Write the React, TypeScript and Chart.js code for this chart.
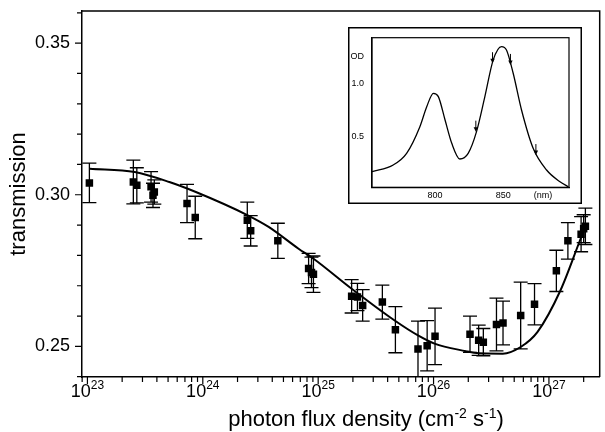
import React, { useEffect, useRef } from 'react';
import { Chart, registerables } from 'chart.js';

Chart.register(...registerables);

const FONT = '"Liberation Sans", Arial, Helvetica, sans-serif';

// ---------- main chart data ----------
const flux = [
  1.04e23, 2.5e23, 2.68e23, 3.56e23, 3.8e23, 3.7e23, 7.3e23, 8.6e23,
  2.43e24, 2.6e24, 4.47e24, 8.26e24, 8.75e24, 9.1e24,
  1.95e25, 2.19e25, 2.43e25, 3.6e25, 4.67e25, 7.33e25, 8.8e25,
  1.03e26, 2.07e26, 2.46e26, 2.7e26, 3.51e26, 4.0e26, 5.69e26, 7.5e26,
  1.16e27, 1.46e27, 1.9e27, 2.0e27, 2.07e27,
];
const transmission = [
  0.3039, 0.3042, 0.3031, 0.3026, 0.3009, 0.2998, 0.2971, 0.2925,
  0.2916, 0.2881, 0.2848, 0.2757, 0.2744, 0.2738,
  0.2665, 0.2663, 0.2635, 0.2646, 0.2555, 0.2491, 0.2502,
  0.2533, 0.254, 0.252, 0.2514, 0.2572, 0.2577, 0.2602, 0.2639,
  0.2749, 0.2848, 0.287, 0.2888, 0.2896,
];
const transmissionErr = [
  0.0065, 0.0072, 0.0058, 0.005, 0.004, 0.004, 0.0063, 0.007,
  0.006, 0.005, 0.0058, 0.005, 0.005, 0.006,
  0.0055, 0.0045, 0.0052, 0.0056, 0.0076, 0.0092, 0.0083,
  0.0093, 0.006, 0.005, 0.0045, 0.0087, 0.0072, 0.011, 0.0068,
  0.0068, 0.006, 0.0058, 0.0046, 0.006,
];
const fitFlux = [
  1.05e23, 2.57e23, 5.13e23, 8.71e23, 2.43e24, 3.72e24, 6.76e24, 9.12e24,
  1.95e25, 4.57e25, 7.33e25, 1.02e26, 1.91e26, 2.24e26, 3.98e26, 5.69e26,
  7.94e26, 1.26e27, 1.86e27, 2.09e27,
];
const fitTransmission = [
  0.3086, 0.3075, 0.3042, 0.3009, 0.2933, 0.2894, 0.2822, 0.2789,
  0.269, 0.2586, 0.2536, 0.2509, 0.2484, 0.2479, 0.2476, 0.2498,
  0.2547, 0.2685, 0.285, 0.2899,
];
const xTickExponents = ['23', '24', '25', '26', '27'];
const xTickBase = '10';
const yTickLabels = ['0.25', '0.30', '0.35'];
const yTitle = 'transmission';
const xTitleParts = [
  { t: 'photon flux density (cm', sup: false },
  { t: '-2', sup: true },
  { t: ' s', sup: false },
  { t: '-1', sup: true },
  { t: ')', sup: false },
];

// ---------- inset data ----------
const wavelength = [
  754, 769.5, 779.3, 789, 794, 798.9, 802.5, 807.4, 812.3, 818.2, 824.3,
  830.4, 836.5, 842.6, 848.7, 852.3, 857.2, 863.3, 871.8, 881.6, 891.4, 897.5,
];
const od = [
  0.172, 0.235, 0.344, 0.594, 0.781, 0.906, 0.875, 0.656, 0.438, 0.291, 0.344,
  0.547, 0.875, 1.219, 1.344, 1.312, 1.094, 0.75, 0.391, 0.188, 0.078, 0.031,
];
const arrowNm = [829.9, 842.1, 855.2, 873.8];
const arrowOD = [0.547, 1.188, 1.172, 0.328];
const insetXTicks = [800, 850];
const insetXUnit = '(nm)';
const insetYTicks = [0.5, 1.0];
const insetYTitle = 'OD';

const TICK_PX = 18;
const SUP_PX = 12;
const TITLE_PX = 22;
const TITLE_SUP_PX = 14;

function MainChart() {
  const ref = useRef<HTMLCanvasElement>(null);
  useEffect(() => {
    const canvas = ref.current!;
    const decor = {
      id: 'decor',
      beforeDatasetsDraw(chart: any) {
        const { ctx, chartArea: a, scales } = chart;
        const x = scales.x, y = scales.y;
        ctx.save();
        ctx.beginPath();
        ctx.rect(a.left, a.top, a.right - a.left, a.bottom - a.top);
        ctx.clip();
        ctx.strokeStyle = '#000';
        ctx.lineWidth = 1.3;
        transmission.forEach((t, i) => {
          const px = x.getPixelForValue(flux[i]);
          const top = y.getPixelForValue(t + transmissionErr[i]);
          const bot = y.getPixelForValue(t - transmissionErr[i]);
          ctx.beginPath();
          ctx.moveTo(px, top);
          ctx.lineTo(px, bot);
          ctx.moveTo(px - 7, top);
          ctx.lineTo(px + 7, top);
          ctx.moveTo(px - 7, bot);
          ctx.lineTo(px + 7, bot);
          ctx.stroke();
        });
        ctx.restore();
      },
      afterDraw(chart: any) {
        const { ctx, chartArea: a, scales } = chart;
        const x = scales.x, y = scales.y;
        ctx.save();
        ctx.strokeStyle = '#000';
        ctx.lineWidth = 1.5;
        ctx.beginPath();
        ctx.moveTo(a.left, a.top);
        ctx.lineTo(a.right, a.top);
        ctx.lineTo(a.right, a.bottom);
        ctx.stroke();
        ctx.lineWidth = 1.2;
        ctx.beginPath();
        for (let e = 22; e <= 27; e++) {
          for (let m = 1; m <= 9; m++) {
            const v = m * Math.pow(10, e);
            if (v < x.min || v > x.max) continue;
            const px = x.getPixelForValue(v);
            const len = m === 1 ? 7 : 5;
            ctx.moveTo(px, a.bottom);
            ctx.lineTo(px, a.bottom + len);
          }
        }
        for (let k = 24; k <= 36; k++) {
          const v = k / 100;
          if (v < y.min || v > y.max) continue;
          const py = y.getPixelForValue(v);
          const len = k % 5 === 0 ? 7 : 5;
          ctx.moveTo(a.left - len, py);
          ctx.lineTo(a.left, py);
        }
        ctx.stroke();
        // x tick labels with superscript exponents
        ctx.fillStyle = '#000';
        ctx.textBaseline = 'alphabetic';
        ctx.textAlign = 'left';
        xTickExponents.forEach((ex) => {
          const px = x.getPixelForValue(Math.pow(10, Number(ex)));
          ctx.font = `${TICK_PX}px ${FONT}`;
          const wb = ctx.measureText(xTickBase).width;
          ctx.font = `${SUP_PX}px ${FONT}`;
          const ws = ctx.measureText(ex).width;
          const start = px - (wb + ws) / 2;
          ctx.font = `${TICK_PX}px ${FONT}`;
          ctx.fillText(xTickBase, start, 397);
          ctx.font = `${SUP_PX}px ${FONT}`;
          ctx.fillText(ex, start + wb, 389);
        });
        // x title
        let total = 0;
        xTitleParts.forEach((p) => {
          ctx.font = p.sup ? `${TITLE_SUP_PX}px ${FONT}` : `${TITLE_PX}px ${FONT}`;
          total += ctx.measureText(p.t).width;
        });
        let cx = 366 - total / 2;
        xTitleParts.forEach((p) => {
          ctx.font = p.sup ? `${TITLE_SUP_PX}px ${FONT}` : `${TITLE_PX}px ${FONT}`;
          ctx.fillText(p.t, cx, p.sup ? 418 : 426);
          cx += ctx.measureText(p.t).width;
        });
        ctx.restore();
      },
    };
    const chart = new Chart(canvas, {
      type: 'scatter',
      data: {
        datasets: [
          {
            type: 'scatter',
            data: flux.map((f, i) => ({ x: f, y: transmission[i] })),
            pointStyle: 'rect',
            pointRadius: 5.3,
            backgroundColor: '#000',
            borderColor: '#000',
            borderWidth: 0,
          } as any,
          {
            type: 'line',
            data: fitFlux.map((f, i) => ({ x: f, y: fitTransmission[i] })),
            borderColor: '#000',
            borderWidth: 2,
            pointRadius: 0,
            cubicInterpolationMode: 'monotone',
            fill: false,
          } as any,
        ],
      },
      options: {
        animation: false,
        responsive: false,
        layout: { padding: { left: 0, top: 11, right: 2, bottom: 0 } },
        plugins: { legend: { display: false }, tooltip: { enabled: false } },
        scales: {
          x: {
            type: 'logarithmic',
            min: Math.pow(10, 22.953),
            max: Math.pow(10, 27.44),
            ticks: { display: false },
            grid: { drawOnChartArea: false, drawTicks: false },
            border: { color: '#000', width: 1.5 },
            afterFit: (s: any) => {
              s.height = 55;
              s.paddingLeft = 0;
              s.paddingRight = 0;
            },
          },
          y: {
            type: 'linear',
            min: 0.2399,
            max: 0.3606,
            ticks: {
              stepSize: 0.01,
              includeBounds: false,
              autoSkip: false,
              padding: 12,
              color: '#000',
              font: { family: FONT, size: TICK_PX },
              callback: (v: any) => {
                const s = Number(v).toFixed(2);
                return yTickLabels.includes(s) ? s : '';
              },
            },
            grid: { drawOnChartArea: false, drawTicks: false },
            border: { color: '#000', width: 1.5 },
            title: {
              display: true,
              text: yTitle,
              color: '#000',
              font: { family: FONT, size: TITLE_PX },
              padding: { top: 6, bottom: 0 },
            },
            afterFit: (s: any) => {
              s.width = 82;
              s.paddingTop = 0;
              s.paddingBottom = 0;
            },
          },
        },
      } as any,
      plugins: [decor],
    });
    return () => chart.destroy();
  }, []);
  return (
    <canvas
      ref={ref}
      width={605}
      height={432}
      style={{ position: 'absolute', left: 0, top: 0, width: 605, height: 432 }}
    />
  );
}

function InsetChart() {
  const ref = useRef<HTMLCanvasElement>(null);
  useEffect(() => {
    const canvas = ref.current!;
    const deco = {
      id: 'insetDeco',
      beforeDraw(chart: any) {
        const { ctx, width, height } = chart;
        ctx.save();
        ctx.fillStyle = '#fff';
        ctx.fillRect(0, 0, width, height);
        ctx.restore();
      },
      afterDraw(chart: any) {
        const { ctx, chartArea: a, scales, width, height } = chart;
        const x = scales.x, y = scales.y;
        ctx.save();
        ctx.strokeStyle = '#000';
        ctx.lineWidth = 1.5;
        ctx.strokeRect(0.75, 0.75, width - 1.5, height - 1.5);
        ctx.lineWidth = 1.2;
        ctx.strokeRect(a.left, a.top, a.right - a.left, a.bottom - a.top);
        // arrows
        ctx.fillStyle = '#000';
        ctx.lineWidth = 1;
        arrowNm.forEach((w, i) => {
          const px = x.getPixelForValue(w);
          const tip = y.getPixelForValue(arrowOD[i]);
          ctx.beginPath();
          ctx.moveTo(px, tip - 11);
          ctx.lineTo(px, tip - 3);
          ctx.stroke();
          ctx.beginPath();
          ctx.moveTo(px - 2.2, tip - 4.5);
          ctx.lineTo(px + 2.2, tip - 4.5);
          ctx.lineTo(px, tip);
          ctx.closePath();
          ctx.fill();
        });
        ctx.restore();
      },
    };
    const unitValue = 879;
    const odValue = 1.25;
    const chart = new Chart(canvas, {
      type: 'line',
      data: {
        datasets: [
          {
            data: wavelength.map((w, i) => ({ x: w, y: od[i] })),
            borderColor: '#000',
            borderWidth: 1.3,
            pointRadius: 0,
            cubicInterpolationMode: 'monotone',
            fill: false,
          } as any,
        ],
      },
      options: {
        animation: false,
        responsive: false,
        layout: { padding: { left: 0, top: 10.7, right: 13, bottom: 0 } },
        plugins: { legend: { display: false }, tooltip: { enabled: false } },
        scales: {
          x: {
            type: 'linear',
            min: 754,
            max: 898,
            afterBuildTicks: (s: any) => {
              s.ticks = [...insetXTicks, unitValue].map((v) => ({ value: v }));
            },
            ticks: {
              autoSkip: false,
              maxRotation: 0,
              padding: 3,
              color: '#000',
              font: { family: FONT, size: 9 },
              callback: (v: any) => (v === unitValue ? insetXUnit : String(v)),
            },
            grid: { drawOnChartArea: false, drawTicks: false },
            border: { color: '#000', width: 1.2 },
            afterFit: (s: any) => {
              s.height = 16.7;
              s.paddingLeft = 0;
              s.paddingRight = 0;
            },
          },
          y: {
            type: 'linear',
            min: 0.026,
            max: 1.427,
            afterBuildTicks: (s: any) => {
              s.ticks = [...insetYTicks, odValue].map((v) => ({ value: v }));
            },
            ticks: {
              autoSkip: false,
              padding: 8,
              color: '#000',
              font: { family: FONT, size: 9 },
              callback: (v: any) => (v === odValue ? insetYTitle : Number(v).toFixed(1)),
            },
            grid: { drawOnChartArea: false, drawTicks: false },
            border: { color: '#000', width: 1.2 },
            afterFit: (s: any) => {
              s.width = 24;
              s.paddingTop = 0;
              s.paddingBottom = 0;
            },
          },
        },
      } as any,
      plugins: [deco],
    });
    return () => chart.destroy();
  }, []);
  return (
    <canvas
      ref={ref}
      width={234}
      height={177}
      style={{ position: 'absolute', left: 348, top: 27, width: 234, height: 177 }}
    />
  );
}

export default function App() {
  return (
    <div style={{ position: 'absolute', left: 0, top: 0, width: 605, height: 432, background: '#fff' }}>
      <MainChart />
      <InsetChart />
    </div>
  );
}
